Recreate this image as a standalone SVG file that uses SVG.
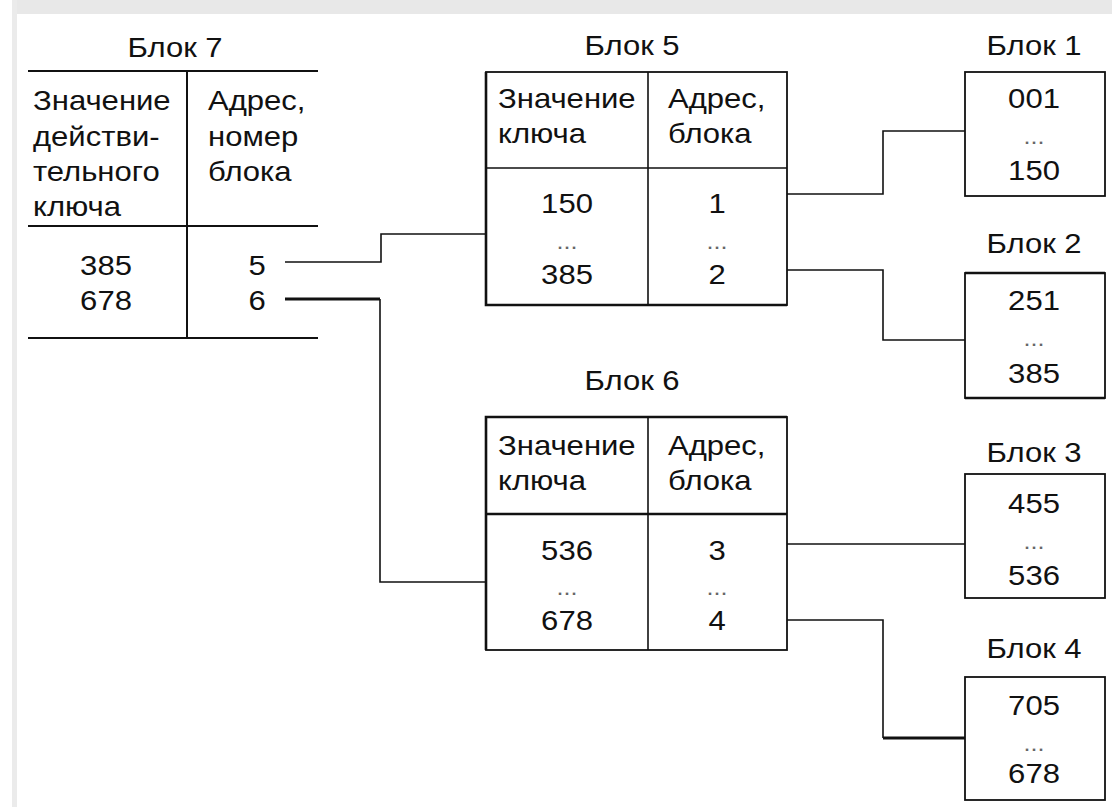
<svg xmlns="http://www.w3.org/2000/svg" width="1112" height="807" viewBox="0 0 1112 807">
<style>
.t{font-family:"Liberation Sans",Arial,sans-serif;font-size:27px;fill:#111}
.m{text-anchor:middle}
.d{font-family:"Liberation Sans",Arial,sans-serif;font-size:22px;fill:#666;text-anchor:middle}
.ln{stroke:#111;stroke-width:1.6;fill:none}
.bd{stroke:#111;stroke-width:2.6;fill:none}
.tk{stroke:#111;stroke-width:3;fill:none}
.box{fill:#fff;stroke:#111;stroke-width:1.8}
</style>
<rect x="0" y="0" width="1112" height="807" fill="#fff"/>
<rect x="12" y="0" width="1100" height="14" fill="#e8e8e8"/>
<rect x="12" y="0" width="5" height="807" fill="#ebebeb"/>

<g id="connectors">
<path class="ln" d="M285,262 H381 V234 H487"/>
<path class="tk" d="M285,299 H380"/>
<path class="ln" d="M380,299 V582 H487"/>
<path class="ln" d="M787,194 H883 V131 H965"/>
<path class="ln" d="M783,270 H883 V340 H965"/>
<path class="ln" d="M787,544 H965"/>
<path class="ln" d="M783,620 H883 V738"/>
<path class="tk" d="M883,738 H965"/>
</g>

<g id="block7">
<text class="t m" transform="translate(175 57) scale(1.15 1)">Блок 7</text>
<path class="ln" d="M28,71 H318 M28,226 H318 M28,338 H318 M187,71 V338" style="stroke-width:2"/>
<text class="t" transform="translate(33 110) scale(1.15 1)">Значение</text>
<text class="t" transform="translate(33 146) scale(1.15 1)">действи-</text>
<text class="t" transform="translate(33 181) scale(1.15 1)">тельного</text>
<text class="t" transform="translate(33 216) scale(1.15 1)">ключа</text>
<text class="t" transform="translate(208 110) scale(1.15 1)">Адрес,</text>
<text class="t" transform="translate(208 146) scale(1.15 1)">номер</text>
<text class="t" transform="translate(208 181) scale(1.15 1)">блока</text>
<text class="t m" transform="translate(106 275) scale(1.15 1)">385</text>
<text class="t m" transform="translate(106 310) scale(1.15 1)">678</text>
<text class="t m" transform="translate(257 275) scale(1.15 1)">5</text>
<text class="t m" transform="translate(257 310) scale(1.15 1)">6</text>
</g>

<g id="block5">
<text class="t m" transform="translate(632 55) scale(1.15 1)">Блок 5</text>
<rect class="box" x="486" y="72" width="301" height="233"/>
<path class="bd" d="M486,72 V305 H787"/>
<path class="ln" d="M486,168 H787 M648,72 V305"/>
<text class="t" transform="translate(498 108) scale(1.15 1)">Значение</text>
<text class="t" transform="translate(498 143) scale(1.15 1)">ключа</text>
<text class="t" transform="translate(668 108) scale(1.15 1)">Адрес,</text>
<text class="t" transform="translate(668 143) scale(1.15 1)">блока</text>
<text class="t m" transform="translate(567 213) scale(1.15 1)">150</text>
<text class="d" transform="translate(567 249) scale(1.15 1)">...</text>
<text class="t m" transform="translate(567 284) scale(1.15 1)">385</text>
<text class="t m" transform="translate(717 213) scale(1.15 1)">1</text>
<text class="d" transform="translate(717 249) scale(1.15 1)">...</text>
<text class="t m" transform="translate(717 284) scale(1.15 1)">2</text>
</g>

<g id="block6">
<text class="t m" transform="translate(632 390) scale(1.15 1)">Блок 6</text>
<rect class="box" x="486" y="417" width="301" height="233"/>
<path class="bd" d="M486,650 V417 H787 M486,514 H787"/>
<path class="ln" d="M648,417 V650"/>
<text class="t" transform="translate(498 455) scale(1.15 1)">Значение</text>
<text class="t" transform="translate(498 490) scale(1.15 1)">ключа</text>
<text class="t" transform="translate(668 455) scale(1.15 1)">Адрес,</text>
<text class="t" transform="translate(668 490) scale(1.15 1)">блока</text>
<text class="t m" transform="translate(567 560) scale(1.15 1)">536</text>
<text class="d" transform="translate(567 595) scale(1.15 1)">...</text>
<text class="t m" transform="translate(567 630) scale(1.15 1)">678</text>
<text class="t m" transform="translate(717 560) scale(1.15 1)">3</text>
<text class="d" transform="translate(717 595) scale(1.15 1)">...</text>
<text class="t m" transform="translate(717 630) scale(1.15 1)">4</text>
</g>

<g id="block1">
<text class="t m" transform="translate(1034 55) scale(1.15 1)">Блок 1</text>
<rect class="box" x="965" y="72" width="140" height="124"/>
<text class="t m" transform="translate(1034 108) scale(1.15 1)">001</text>
<text class="d" transform="translate(1034 144) scale(1.15 1)">...</text>
<text class="t m" transform="translate(1034 180) scale(1.15 1)">150</text>
</g>

<g id="block2">
<text class="t m" transform="translate(1034 253) scale(1.15 1)">Блок 2</text>
<rect class="box" x="965" y="273" width="140" height="125"/>
<path class="bd" d="M965,273 H1105 M965,398 H1105"/>
<text class="t m" transform="translate(1034 310) scale(1.15 1)">251</text>
<text class="d" transform="translate(1034 346) scale(1.15 1)">...</text>
<text class="t m" transform="translate(1034 383) scale(1.15 1)">385</text>
</g>

<g id="block3">
<text class="t m" transform="translate(1034 462) scale(1.15 1)">Блок 3</text>
<rect class="box" x="965" y="474" width="140" height="124"/>
<text class="t m" transform="translate(1034 513) scale(1.15 1)">455</text>
<text class="d" transform="translate(1034 549) scale(1.15 1)">...</text>
<text class="t m" transform="translate(1034 585) scale(1.15 1)">536</text>
</g>

<g id="block4">
<text class="t m" transform="translate(1034 658) scale(1.15 1)">Блок 4</text>
<rect class="box" x="965" y="677" width="140" height="123"/>
<text class="t m" transform="translate(1034 715) scale(1.15 1)">705</text>
<text class="d" transform="translate(1034 751) scale(1.15 1)">...</text>
<text class="t m" transform="translate(1034 783) scale(1.15 1)">678</text>
</g>
</svg>
